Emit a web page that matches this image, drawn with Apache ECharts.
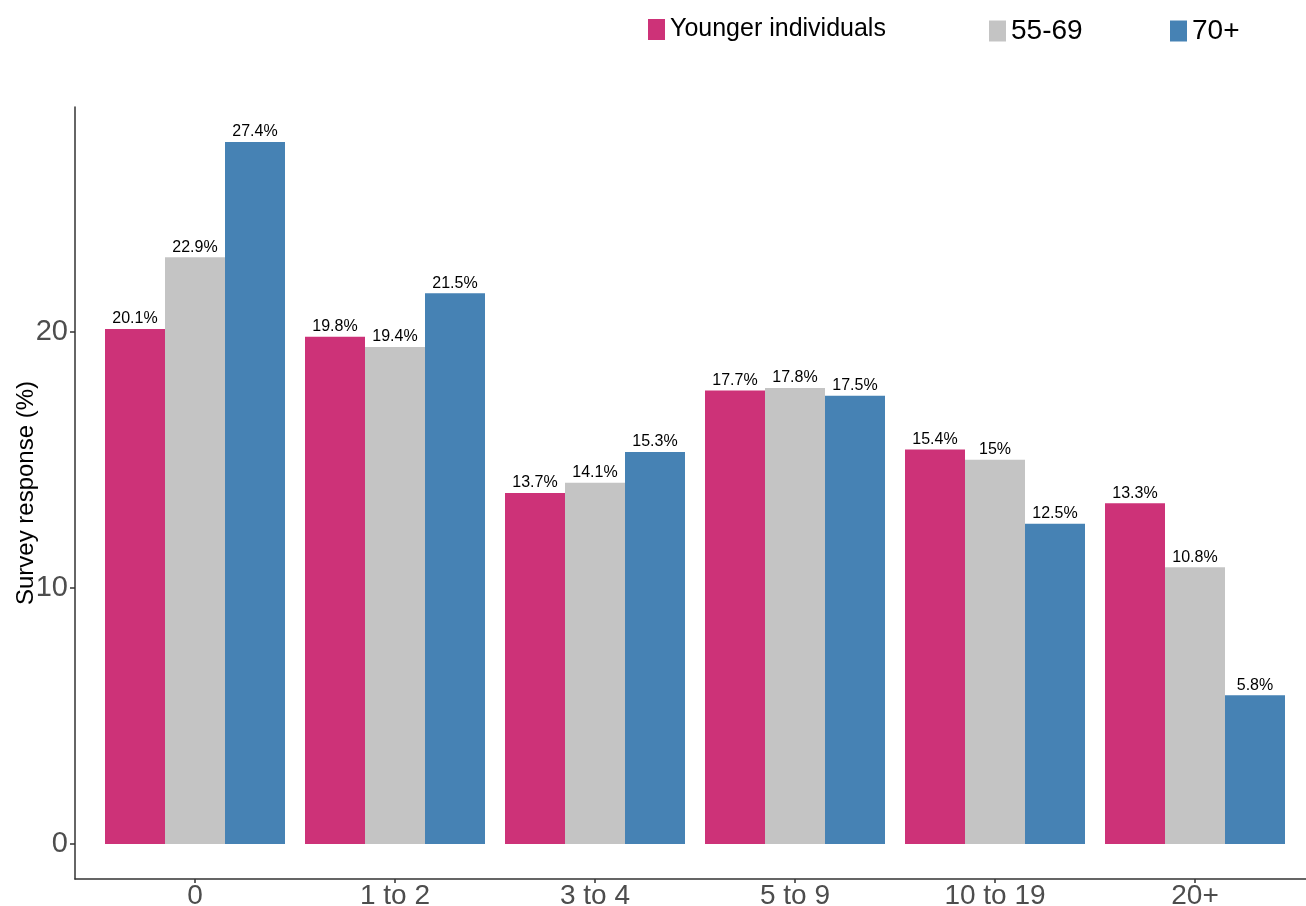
<!DOCTYPE html>
<html>
<head>
<meta charset="utf-8">
<script src="https://cdn.jsdelivr.net/npm/echarts@6/dist/echarts.min.js"></script>
<style>
  html, body { margin: 0; padding: 0; background: #fff; overflow: hidden; }
  #chart { width: 1306px; height: 906px; }
</style>
</head>
<body>
<div id="chart"></div>
<script>
const categories = ['0', '1 to 2', '3 to 4', '5 to 9', '10 to 19', '20+'];
const groupNames = ['Younger individuals', '55-69', '70+'];
const younger = [20.1, 19.8, 13.7, 17.7, 15.4, 13.3];
const age55to69 = [22.9, 19.4, 14.1, 17.8, 15, 10.8];
const age70plus = [27.4, 21.5, 15.3, 17.5, 12.5, 5.8];
const yTicks = [0, 10, 20];

const colors = ['#CD3278', '#C4C4C4', '#4682B4'];
const font = 'Liberation Sans, Arial, sans-serif';
const axisColor = '#4d4d4d';

const chart = echarts.init(document.getElementById('chart'));

const makeSeries = (name, values, color) => ({
  name: name,
  type: 'bar',
  barWidth: 60,
  barGap: '0%',
  itemStyle: { color: color },
  label: {
    show: true,
    position: 'top',
    distance: 2,
    color: '#000',
    fontSize: 16,
    fontFamily: font,
    formatter: (p) => p.value[1] + '%',
  },
  data: values.map((v, i) => [i, v]),
});

const legendAt = (name, left, size) => ({
  left: left,
  top: 17,
  padding: 0,
  icon: 'rect',
  itemWidth: 17,
  itemHeight: 21,
  selectedMode: false,
  textStyle: { color: '#000', fontFamily: font, fontSize: size, lineHeight: 21 },
  data: [name],
});

const option = {
  animation: false,
  backgroundColor: '#fff',
  legend: [
    legendAt(groupNames[0], 648, 25),
    legendAt(groupNames[1], 989, 28),
    legendAt(groupNames[2], 1170, 28),
  ],
  grid: {
    left: 75,
    right: -9,
    top: 107,
    bottom: 27,
    outerBoundsMode: 'none',
  },
  xAxis: {
    type: 'value',
    min: -0.6,
    max: 5.6,
    splitLine: { show: false },
    axisLine: { show: true, onZero: false, lineStyle: { color: '#333', width: 1.5 } },
    axisTick: {
      show: true,
      length: 4,
      customValues: categories.map((c, i) => i),
      lineStyle: { color: '#333', width: 1.5 },
    },
    axisLabel: {
      customValues: categories.map((c, i) => i),
      formatter: (v) => categories[Math.round(v)],
      color: axisColor,
      fontSize: 28,
      fontFamily: font,
      margin: 3,
    },
  },
  yAxis: {
    type: 'value',
    min: -1.37,
    max: 28.77,
    name: 'Survey response (%)',
    nameLocation: 'middle',
    nameGap: 37,
    nameMoveOverlap: false,
    nameTextStyle: { color: '#000', fontSize: 24, fontFamily: font },
    splitLine: { show: false },
    axisLine: { show: true, onZero: false, lineStyle: { color: '#333', width: 1.5 } },
    axisTick: {
      show: true,
      length: 5,
      customValues: yTicks,
      lineStyle: { color: '#333', width: 1.5 },
    },
    axisLabel: {
      customValues: yTicks,
      color: axisColor,
      fontSize: 29,
      fontFamily: font,
      margin: 7,
    },
  },
  series: [
    makeSeries(groupNames[0], younger, colors[0]),
    makeSeries(groupNames[1], age55to69, colors[1]),
    makeSeries(groupNames[2], age70plus, colors[2]),
  ],
};

chart.setOption(option);
window.addEventListener('resize', () => chart.resize());
</script>
</body>
</html>
